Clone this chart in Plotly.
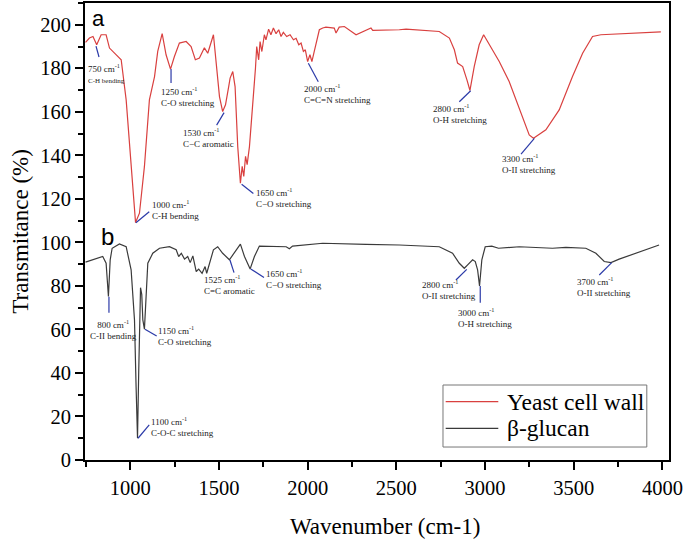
import plotly.graph_objects as go

# ---------------- data ----------------
yeast_wn = [748, 770, 790, 811, 836, 864, 883, 902, 930, 949, 977, 1005, 1030, 1052, 1080,
            1108, 1137, 1155, 1180, 1202, 1227, 1249, 1277, 1315, 1343, 1367, 1390, 1418, 1437,
            1469, 1484, 1503, 1521, 1537, 1555, 1563, 1578, 1591, 1606, 1615, 1621, 1631, 1640,
            1650, 1659, 1672, 1685, 1696, 1706, 1713, 1724, 1732, 1742, 1756, 1765, 1780, 1793,
            1807, 1822, 1837, 1850, 1863, 1882, 1901, 1920, 1935, 1950, 1963, 1976, 1987, 2000,
            2013, 2024, 2037, 2051, 2066, 2085, 2103, 2150, 2160, 2178, 2207, 2273, 2348, 2357,
            2367, 2386, 2517, 2555, 2742, 2799, 2827, 2845, 2874, 2898, 2915, 2939, 2967, 2992,
            3024, 3080, 3136, 3193, 3249, 3273, 3343, 3418, 3493, 3550, 3606, 3653, 3831, 3991]
yeast_t = [191.9, 193.9, 194.6, 190.8, 195.4, 195.4, 189.3, 187.7, 185.4, 183.9, 165.5, 134.9,
           109.1, 113.4, 134.9, 165.5, 176.2, 187.8, 195.9, 186.2, 179.6, 185.4, 191.6, 192.3,
           190.0, 183.9, 184.7, 189.4, 186.9, 195.4, 182.4, 167.0, 160.1, 163.2, 171.6, 175.5,
           178.5, 171.6, 144.0, 131.8, 127.2, 134.9, 130.3, 139.5, 135.7, 144.0, 156.3, 168.6,
           180.1, 190.0, 183.9, 192.3, 187.7, 195.4, 193.1, 198.0, 195.4, 198.5, 195.9, 197.7,
           194.6, 196.5, 194.6, 195.4, 193.1, 193.8, 190.8, 191.6, 187.7, 188.5, 183.1, 186.2,
           183.1, 187.7, 193.1, 197.7, 198.5, 198.9, 198.5, 196.2, 198.9, 199.2, 195.4, 198.5,
           198.5, 197.4, 197.4, 197.7, 198.0, 196.9, 193.9, 188.5, 182.4, 180.8, 174.7, 169.8,
           180.8, 190.8, 195.4, 190.8, 183.1, 173.9, 161.6, 149.4, 147.9, 151.7, 160.9, 176.2,
           186.9, 194.6, 195.4, 196.2, 196.7]

glucan_wn = [748, 808, 845, 864, 877, 887, 898, 939, 977, 1005, 1024, 1033, 1041, 1048, 1054,
             1058, 1065, 1071, 1080, 1090, 1099, 1127, 1165, 1221, 1259, 1273, 1288, 1306, 1324,
             1338, 1353, 1372, 1386, 1405, 1422, 1431, 1446, 1469, 1493, 1521, 1559, 1587, 1621,
             1644, 1676, 1700, 1728, 1879, 1897, 1915, 2085, 2329, 2517, 2742, 2817, 2855, 2883,
             2902, 2930, 2945, 2958, 2969, 2982, 3001, 3038, 3076, 3193, 3380, 3456, 3568, 3625,
             3672, 3710, 3756, 3869, 3981]
glucan_t = [90.9, 92.3, 93.5, 90.4, 75.1, 92.0, 97.3, 99.3, 98.0, 87.4, 64.4, 33.7, 10.0, 41.4,
            72.0, 79.2, 76.0, 64.4, 60.1, 76.0, 90.4, 95.0, 97.3, 98.0, 96.6, 93.5, 95.0, 92.3,
            93.5, 90.7, 93.8, 86.6, 87.7, 85.8, 88.9, 85.8, 90.4, 96.6, 98.0, 95.0, 92.0, 95.0,
            99.2, 93.5, 87.8, 93.5, 98.3, 98.0, 97.1, 98.3, 99.6, 99.1, 98.8, 98.0, 95.0, 90.4,
            88.1, 89.7, 92.0, 91.2, 87.4, 80.0, 92.0, 98.0, 98.3, 97.3, 98.0, 97.3, 97.7, 97.3,
            95.0, 91.2, 90.7, 92.3, 95.7, 98.8]

assert len(yeast_wn) == len(yeast_t), (len(yeast_wn), len(yeast_t))
assert len(glucan_wn) == len(glucan_t), (len(glucan_wn), len(glucan_t))

series_names = ["Yeast cell wall", "β-glucan"]
series_colors = ["#d9403f", "#3a3a3a"]
x_ticks = [1000, 1500, 2000, 2500, 3000, 3500, 4000]
y_ticks = list(range(0, 201, 20))

# peak labels: (text line 1, text line 2, text x, text y, leader x0, y0, x1, y1, align)
peak_labels = [
    ("750 cm<sup>-1</sup>", "<span style='font-size:7px'>C-H bending</span>", 756, 183.2, 807, 190.2, 824, 185.2, "left"),
    ("1250 cm<sup>-1</sup>", "C-O stretching", 1168, 172.6, 1230, 179.7, 1230, 173.2, "left"),
    ("1530 cm<sup>-1</sup>", "C−C aromatic", 1292, 153.8, 1529, 159.6, 1487, 153.9, "left"),
    ("1000 cm-<sup>1</sup>", "C-H bending", 1117, 120.7, 1032, 109.0, 1107, 114.1, "left"),
    ("1650 cm<sup>-1</sup>", "C−O stretching", 1703, 126.2, 1628, 126.7, 1694, 122.5, "left"),
    ("2000 cm<sup>-1</sup>", "C=C=N stretching", 1974, 174.0, 2004, 182.3, 2060, 173.8, "left"),
    ("2800 cm<sup>-1</sup>", "O-H stretching", 2699, 165.0, 2919, 169.7, 2855, 164.6, "left"),
    ("3300 cm<sup>-1</sup>", "O-II stretching", 3090, 142.1, 3278, 147.8, 3203, 140.6, "left"),
    ("800 cm<sup>-1</sup>", "C-II bending", 903, 65.5, 880, 75.0, 880, 67.7, "center"),
    ("1150 cm<sup>-1</sup>", "C-O stretching", 1151, 62.8, 1083, 60.1, 1149, 57.0, "left"),
    ("1100 cm<sup>-1</sup>", "C-O-C stretching", 1111, 21.0, 1044, 10.0, 1107, 16.1, "left"),
    ("1525 cm<sup>-1</sup>", "C=C aromatic", 1410, 86.5, 1562, 91.9, 1585, 86.1, "left"),
    ("1650 cm<sup>-1</sup>", "C−O stretching", 1760, 89.0, 1679, 87.8, 1754, 83.9, "left"),
    ("2800 cm<sup>-1</sup>", "O-II stretching", 2637, 84.2, 2897, 87.6, 2836, 82.7, "left"),
    ("3000 cm<sup>-1</sup>", "O-H stretching", 2840, 71.1, 2973, 80.0, 2973, 72.3, "left"),
    ("3700 cm<sup>-1</sup>", "O-II stretching", 3513, 85.5, 3714, 90.7, 3644, 85.0, "left"),
]

# ---------------- figure ----------------
SERIF = "Times New Roman, Liberation Serif, DejaVu Serif, serif"
SANS = "Arial, Liberation Sans, sans-serif"
fig = go.Figure()
fig.add_trace(go.Scatter(x=yeast_wn, y=yeast_t, mode="lines", name=series_names[0],
                         line=dict(color=series_colors[0], width=1.2)))
fig.add_trace(go.Scatter(x=glucan_wn, y=glucan_t, mode="lines", name=series_names[1],
                         line=dict(color=series_colors[1], width=1.2)))

LEADER = "#2b3aa8"
for l1, l2, tx, ty, x0, y0, x1, y1, al in peak_labels:
    fig.add_shape(type="line", x0=x0, y0=y0, x1=x1, y1=y1, xref="x", yref="y",
                  line=dict(color=LEADER, width=1.2))
    fig.add_annotation(x=tx, y=ty, xref="x", yref="y", text=l1 + "<br>" + l2,
                       showarrow=False, xanchor="center" if al == "center" else "left",
                       yanchor="top", align=al, borderpad=0,
                       font=dict(family=SERIF, size=9, color="#222222"))

# panel letters
fig.add_annotation(x=0.009, y=0.997, xref="paper", yref="paper", text="a", showarrow=False,
                   xanchor="left", yanchor="top",
                   font=dict(family=SANS, size=22, color="black"))
fig.add_annotation(x=0.024, y=0.488, xref="paper", yref="paper", text="b", showarrow=False,
                   xanchor="left", yanchor="middle",
                   font=dict(family=SANS, size=24, color="black"))

# axis titles
fig.add_annotation(x=-0.111, y=0.5, xref="paper", yref="paper", text="Transmitance (%)",
                   textangle=-90, showarrow=False, xanchor="center", yanchor="middle",
                   font=dict(family=SERIF, size=23, color="black"))
fig.add_annotation(x=0.514, y=-0.1466, xref="paper", yref="paper", text="Wavenumber (cm-1)",
                   showarrow=False, xanchor="center", yanchor="middle",
                   font=dict(family=SERIF, size=23, color="black"))

# legend box (drawn in paper space)
fig.add_shape(type="rect", xref="paper", yref="paper", x0=0.613, x1=0.962, y0=0.0284, y1=0.1641,
              line=dict(color="#777777", width=1), fillcolor="white", layer="above")
for i, (nm, col) in enumerate(zip(series_names, series_colors)):
    yy = [0.1276, 0.0694][i]
    fig.add_shape(type="line", xref="paper", yref="paper", x0=0.6176, x1=0.7077, y0=yy, y1=yy,
                  line=dict(color=col, width=1.2), layer="above")
    fig.add_annotation(x=0.7192, y=yy, xref="paper", yref="paper", text=nm, showarrow=False,
                       xanchor="left", yanchor="middle",
                       font=dict(family=SERIF, size=23.5, color="black"))

fig.update_layout(
    width=685, height=544,
    margin=dict(l=85, r=16, t=3, b=84, autoexpand=False),
    paper_bgcolor="white", plot_bgcolor="white",
    showlegend=False,
    font=dict(family=SERIF, color="black"),
)
fig.update_xaxes(range=[745, 4037], tickvals=x_ticks, ticks="outside", ticklen=8, tickwidth=1.5,
                 tickcolor="black", showline=True, linewidth=2, linecolor="black", mirror=True,
                 showgrid=False, zeroline=False, automargin=False,
                 tickfont=dict(family=SERIF, size=20.5, color="black"),
                 minor=dict(dtick=250, tick0=750, ticks="outside", ticklen=5, tickwidth=1.5,
                            tickcolor="black", showgrid=False))
fig.update_yaxes(range=[0, 210], tickvals=y_ticks, ticks="outside", ticklen=8, tickwidth=1.5,
                 tickcolor="black", showline=True, linewidth=2, linecolor="black", mirror=True,
                 showgrid=False, zeroline=False, automargin=False,
                 tickfont=dict(family=SERIF, size=20.5, color="black"),
                 minor=dict(dtick=10, tick0=0, ticks="outside", ticklen=5, tickwidth=1.5,
                            tickcolor="black", showgrid=False))

fig.write_html("out.html", config={"displayModeBar": False},
               post_script="document.body.style.margin='0px';document.body.style.padding='0px';")
